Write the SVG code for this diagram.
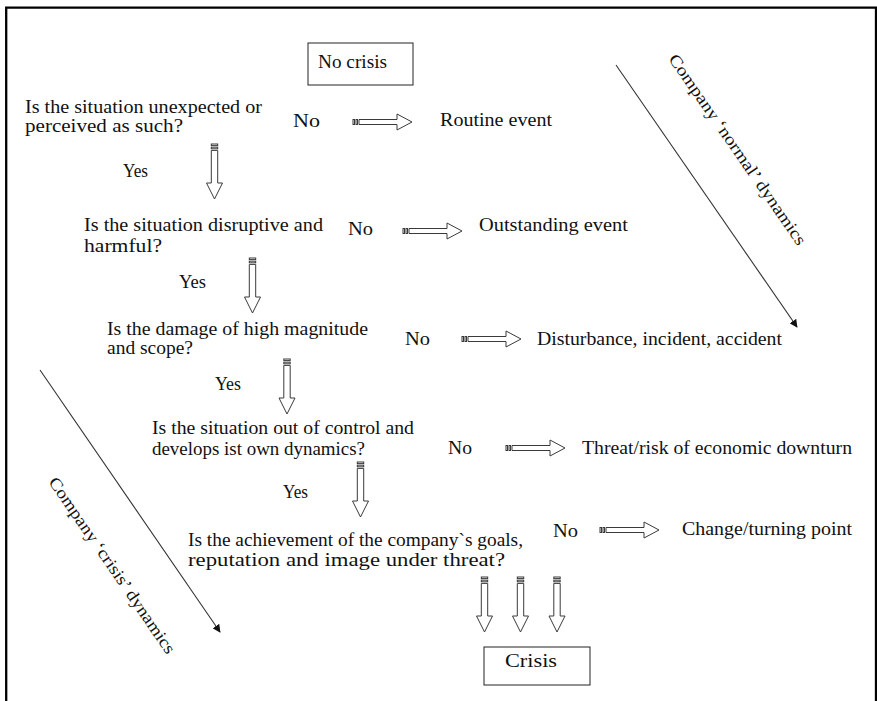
<svg xmlns="http://www.w3.org/2000/svg" xmlns:xlink="http://www.w3.org/1999/xlink" width="877" height="701" viewBox="0 0 877 701">
<style>
text{font-family:"Liberation Serif","Times New Roman",serif;font-size:18px;fill:#111}
.box{fill:#fff;stroke:#222;stroke-width:1}
.ba{fill:#fff;stroke:#3a3a3a;stroke-width:1}
.diag{stroke:#333;stroke-width:1.1;fill:none}
.rot{font-size:17px}
</style>
<defs>
<g id="arrR" class="ba">
<rect x="0" y="-2.5" width="1.5" height="5"/>
<rect x="3" y="-2.5" width="1.5" height="5"/>
<path d="M6,-2.5 H44 V-8 L59,0 L44,8 V2.5 H6 Z"/>
</g>
<g id="arrD" class="ba">
<rect x="-3.2" y="0" width="6.4" height="1.6"/>
<rect x="-3.2" y="3.2" width="6.4" height="1.6"/>
<path d="M-3.2,6.4 V39 H-8 L0,55 L8,39 H3.2 V6.4 Z"/>
</g>
<marker id="tri" viewBox="0 0 10 10" refX="9" refY="5" markerWidth="8" markerHeight="8" markerUnits="userSpaceOnUse" orient="auto">
<path d="M0,0 L10,5 L0,10 Z" fill="#111"/>
</marker>
</defs>
<rect width="877" height="701" fill="#fff"/>
<path d="M6.2,705 V7.7 H876 V705" fill="none" stroke="#000" stroke-width="2.3"/>

<g id="no-crisis"><rect class="box" x="308" y="43" width="105" height="42"/><text x="318" y="68" textLength="69" lengthAdjust="spacingAndGlyphs">No crisis</text></g>

<g id="q1"><text x="25" y="113" textLength="237" lengthAdjust="spacingAndGlyphs">Is the situation unexpected or</text><text x="25" y="132" textLength="158" lengthAdjust="spacingAndGlyphs">perceived as such?</text></g>
<g id="q2"><text x="84" y="231" textLength="239" lengthAdjust="spacingAndGlyphs">Is the situation disruptive and</text><text x="84" y="252" textLength="78" lengthAdjust="spacingAndGlyphs">harmful?</text></g>
<g id="q3"><text x="107" y="335" textLength="261" lengthAdjust="spacingAndGlyphs">Is the damage of high magnitude</text><text x="107" y="354" textLength="86" lengthAdjust="spacingAndGlyphs">and scope?</text></g>
<g id="q4"><text x="152" y="434" textLength="262" lengthAdjust="spacingAndGlyphs">Is the situation out of control and</text><text x="152" y="455" textLength="213" lengthAdjust="spacingAndGlyphs">develops ist own dynamics?</text></g>
<g id="q5"><text x="188" y="546" textLength="335" lengthAdjust="spacingAndGlyphs">Is the achievement of the company`s goals,</text><text x="188" y="566" textLength="317" lengthAdjust="spacingAndGlyphs">reputation and image under threat?</text></g>

<g id="r1"><text x="440" y="126" textLength="112" lengthAdjust="spacingAndGlyphs">Routine event</text></g>
<g id="r2"><text x="479" y="231" textLength="149" lengthAdjust="spacingAndGlyphs">Outstanding event</text></g>
<g id="r3"><text x="537" y="345" textLength="245" lengthAdjust="spacingAndGlyphs">Disturbance, incident, accident</text></g>
<g id="r4"><text x="582" y="454" textLength="270" lengthAdjust="spacingAndGlyphs">Threat/risk of economic downturn</text></g>
<g id="r5"><text x="682" y="535" textLength="170" lengthAdjust="spacingAndGlyphs">Change/turning point</text></g>

<g id="crisis"><rect class="box" x="484" y="647" width="106" height="38"/><text x="505" y="667" textLength="52" lengthAdjust="spacingAndGlyphs">Crisis</text></g>

<g id="connectors">
<text x="293" y="126.5" textLength="27" lengthAdjust="spacingAndGlyphs">No</text>
<use xlink:href="#arrR" x="353" y="122"/>
<text x="123" y="177" textLength="25" lengthAdjust="spacingAndGlyphs">Yes</text>
<use xlink:href="#arrD" x="214.5" y="144"/>

<text x="348" y="235" textLength="25" lengthAdjust="spacingAndGlyphs">No</text>
<use xlink:href="#arrR" x="403" y="231"/>
<text x="179" y="288" textLength="27" lengthAdjust="spacingAndGlyphs">Yes</text>
<use xlink:href="#arrD" x="252.5" y="258"/>

<text x="405" y="345" textLength="25" lengthAdjust="spacingAndGlyphs">No</text>
<use xlink:href="#arrR" x="462" y="339"/>
<text x="215" y="390" textLength="26" lengthAdjust="spacingAndGlyphs">Yes</text>
<use xlink:href="#arrD" x="287" y="359"/>

<text x="448" y="454" textLength="24" lengthAdjust="spacingAndGlyphs">No</text>
<use xlink:href="#arrR" x="506" y="448"/>
<text x="283" y="498" textLength="25" lengthAdjust="spacingAndGlyphs">Yes</text>
<use xlink:href="#arrD" x="360.5" y="462"/>

<text x="553" y="537" textLength="25" lengthAdjust="spacingAndGlyphs">No</text>
<use xlink:href="#arrR" x="600" y="530"/>

<use xlink:href="#arrD" x="484.5" y="577"/>
<use xlink:href="#arrD" x="520.5" y="577"/>
<use xlink:href="#arrD" x="557" y="577"/>

<line class="diag" x1="616" y1="65" x2="797" y2="327" marker-end="url(#tri)"/>
<line class="diag" x1="40" y1="370" x2="220" y2="632" marker-end="url(#tri)"/>
</g>

<g id="label-normal"><text class="rot" transform="translate(668,59) rotate(55.3)" textLength="228" lengthAdjust="spacingAndGlyphs">Company ‘normal’ dynamics</text></g>
<g id="label-crisis"><text class="rot" transform="translate(48,482) rotate(55.5)" textLength="210" lengthAdjust="spacingAndGlyphs">Company ‘crisis’ dynamics</text></g>
</svg>
